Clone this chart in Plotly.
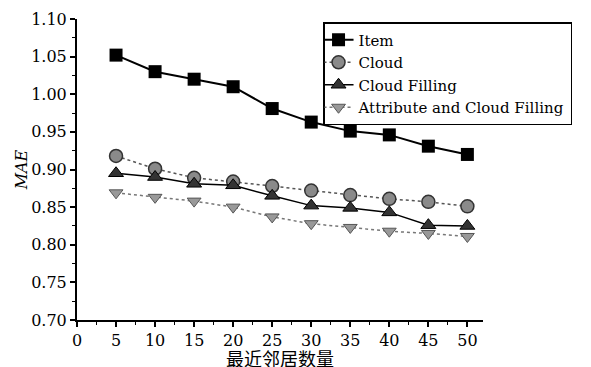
import plotly.graph_objects as go

neighbors = [5, 10, 15, 20, 25, 30, 35, 40, 45, 50]
item = [1.052, 1.030, 1.020, 1.010, 0.981, 0.963, 0.951, 0.946, 0.931, 0.920]
cloud = [0.918, 0.901, 0.889, 0.884, 0.878, 0.872, 0.866, 0.861, 0.857, 0.851]
cloud_filling = [0.895, 0.890, 0.881, 0.879, 0.865, 0.852, 0.849, 0.843, 0.826, 0.825]
attr_cloud = [0.869, 0.863, 0.858, 0.850, 0.837, 0.828, 0.823, 0.818, 0.815, 0.811]
names = ["Item", "Cloud", "Cloud Filling", "Attribute and Cloud Filling"]
x_title = "最近邻居数量"
y_title = "<i>MAE</i>"

serif = "DejaVu Serif"
fig = go.Figure()
fig.add_trace(go.Scatter(x=neighbors, y=item, name=names[0], mode="lines+markers",
                         line=dict(color="black", width=2),
                         marker=dict(symbol="square", size=13, color="black")))
fig.add_trace(go.Scatter(x=neighbors, y=cloud, name=names[1], mode="lines+markers",
                         line=dict(color="#555", width=1.5, dash="dot"),
                         marker=dict(symbol="circle", size=13, color="#8a8a8a",
                                     line=dict(color="#333", width=1.5))))
fig.add_trace(go.Scatter(x=neighbors, y=cloud_filling, name=names[2], mode="lines+markers",
                         line=dict(color="black", width=1.5),
                         marker=dict(symbol="triangle-up", size=13, color="#333",
                                     line=dict(color="black", width=1))))
fig.add_trace(go.Scatter(x=neighbors, y=attr_cloud, name=names[3], mode="lines+markers",
                         line=dict(color="#777", width=1.5, dash="dot"),
                         marker=dict(symbol="triangle-down", size=12, color="#999",
                                     line=dict(color="#555", width=1))))

fig.update_layout(
    width=591, height=367,
    margin=dict(l=77, r=108, t=19, b=47),
    paper_bgcolor="white", plot_bgcolor="white",
    font=dict(family=serif, size=15, color="black"),
    showlegend=True,
    legend=dict(x=0.606, y=0.99, xanchor="left", yanchor="top",
                bordercolor="black", borderwidth=1.5, bgcolor="white",
                font=dict(family=serif, size=15), itemwidth=30,
                tracegroupgap=0, indentation=-6),
    xaxis=dict(range=[0, 52], tickmode="array",
               tickvals=list(range(0, 55, 5)), automargin=False,
               showgrid=False, zeroline=False, showline=True, linecolor="black", linewidth=2,
               ticks="outside", ticklen=5, tickwidth=1.5, tickcolor="black",
               minor=dict(ticks="outside", ticklen=3, tickwidth=1, tickcolor="black", dtick=2.5),
               tickfont=dict(family=serif, size=16)),
    yaxis=dict(range=[0.70, 1.10], tickvals=[0.70, 0.75, 0.80, 0.85, 0.90, 0.95, 1.00, 1.05, 1.10],
               ticktext=["0.70", "0.75", "0.80", "0.85", "0.90", "0.95", "1.00", "1.05", "1.10"],
               automargin=False,
               showgrid=False, zeroline=False, showline=True, linecolor="black", linewidth=2,
               ticks="outside", ticklen=5, tickwidth=1.5, tickcolor="black",
               minor=dict(ticks="outside", ticklen=3, tickwidth=1, tickcolor="black", dtick=0.025),
               tickfont=dict(family=serif, size=16),
               title=dict(text=y_title, font=dict(family=serif, size=16), standoff=0)),
    annotations=[dict(text=x_title, xref="paper", yref="paper", x=0.5, y=-0.125,
                      xanchor="center", yanchor="middle", showarrow=False,
                      font=dict(family="Noto Sans CJK SC", size=18))],
)

fig.write_html("out.html", config={"displayModeBar": False},
               post_script="document.body.style.margin='0';")
